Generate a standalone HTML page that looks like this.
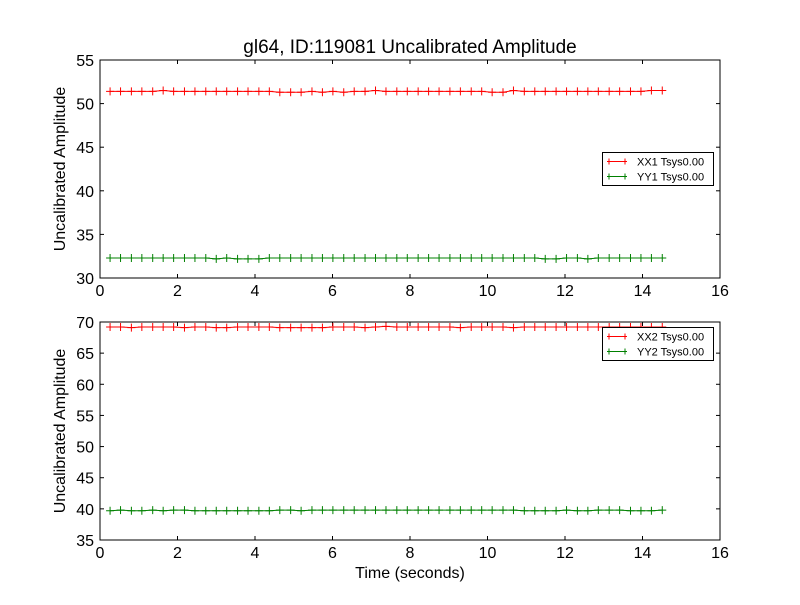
<!DOCTYPE html>
<html><head><meta charset="utf-8"><style>
body{margin:0;background:#fff;}
svg text{font-family:"Liberation Sans","DejaVu Sans",sans-serif;}
</style></head><body>
<svg id="chart" width="800" height="600" viewBox="0 0 800 600">
<rect width="800" height="600" fill="#fff"/>
</svg>
<script>
const times=[0.26,0.53,0.81,1.08,1.36,1.63,1.90,2.18,2.45,2.73,3.00,3.27,3.55,3.82,4.10,4.37,4.64,4.92,5.19,5.47,5.74,6.01,6.29,6.56,6.84,7.11,7.38,7.66,7.93,8.21,8.48,8.75,9.03,9.30,9.58,9.85,10.12,10.40,10.67,10.95,11.22,11.49,11.77,12.04,12.32,12.59,12.86,13.14,13.41,13.69,13.96,14.23,14.51];
const xx1=[51.4,51.4,51.4,51.4,51.4,51.5,51.4,51.4,51.4,51.4,51.4,51.4,51.4,51.4,51.4,51.4,51.3,51.3,51.3,51.4,51.3,51.4,51.3,51.4,51.4,51.5,51.4,51.4,51.4,51.4,51.4,51.4,51.4,51.4,51.4,51.4,51.3,51.3,51.5,51.4,51.4,51.4,51.4,51.4,51.4,51.4,51.4,51.4,51.4,51.4,51.4,51.5,51.5];
const yy1=[32.3,32.3,32.3,32.3,32.3,32.3,32.3,32.3,32.3,32.3,32.2,32.3,32.2,32.2,32.2,32.3,32.3,32.3,32.3,32.3,32.3,32.3,32.3,32.3,32.3,32.3,32.3,32.3,32.3,32.3,32.3,32.3,32.3,32.3,32.3,32.3,32.3,32.3,32.3,32.3,32.3,32.2,32.2,32.3,32.3,32.2,32.3,32.3,32.3,32.3,32.3,32.3,32.3];
const xx2=[69.2,69.2,69.1,69.2,69.2,69.2,69.2,69.1,69.2,69.2,69.1,69.1,69.2,69.2,69.2,69.2,69.1,69.1,69.1,69.1,69.1,69.2,69.2,69.2,69.1,69.2,69.3,69.2,69.2,69.2,69.2,69.2,69.2,69.1,69.2,69.2,69.2,69.2,69.1,69.2,69.2,69.2,69.2,69.2,69.2,69.2,69.2,69.2,69.2,69.2,69.2,69.2,69.2];
const yy2=[39.7,39.8,39.7,39.7,39.8,39.7,39.8,39.8,39.7,39.7,39.7,39.7,39.7,39.7,39.7,39.7,39.8,39.8,39.7,39.8,39.8,39.8,39.8,39.8,39.8,39.8,39.8,39.8,39.8,39.8,39.8,39.8,39.8,39.8,39.8,39.8,39.8,39.8,39.8,39.7,39.7,39.7,39.7,39.8,39.7,39.7,39.8,39.8,39.8,39.7,39.7,39.7,39.8];
const xTicks=[0,2,4,6,8,10,12,14,16];
const yTicksTop=[30,35,40,45,50,55];
const yTicksBot=[35,40,45,50,55,60,65,70];
const NS="http://www.w3.org/2000/svg";
const svg=document.getElementById('chart');
function mk(tag,attrs,parent){const e=document.createElementNS(NS,tag);for(const k in attrs)e.setAttribute(k,attrs[k]);(parent||svg).appendChild(e);return e;}
function panel(top,bottom,ymin,ymax,yticks,s1,s2,n1,n2,pname,legendY){
  const L=100,R=720;
  const x=v=>L+(v-0)/(16-0)*(R-L);
  const y=v=>bottom-(v-ymin)/(ymax-ymin)*(bottom-top);
  const g=mk('g',{});
  
  
  xTicks.forEach(t=>{
    mk('line',{x1:x(t),x2:x(t),y1:bottom,y2:bottom-4,stroke:'#000'},g);
    mk('line',{x1:x(t),x2:x(t),y1:top,y2:top+4,stroke:'#000'},g);
    const tx=mk('text',{x:x(t),y:bottom+18,'text-anchor':'middle','font-size':'16'},g);
    tx.textContent=t;
    
    
  });
  yticks.forEach(t=>{
    mk('line',{x1:L,x2:L+4,y1:y(t),y2:y(t),stroke:'#000'},g);
    mk('line',{x1:R,x2:R-4,y1:y(t),y2:y(t),stroke:'#000'},g);
    const tx=mk('text',{x:L-6,y:y(t)+6,'text-anchor':'end','font-size':'16'},g);
    tx.textContent=t;
    
    
  });
  [[s1,'#ff0000',n1],[s2,'#008000',n2]].forEach(([s,c,nm])=>{
    const pts=s.map((v,i)=>x(times[i])+','+y(v)).join(' ');
    const pl=mk('polyline',{points:pts,fill:'none',stroke:c,'stroke-width':1},g);
    
    
    s.forEach((v,i)=>{const px=x(times[i]),py=y(v);
      const m=mk('path',{d:`M${px-4} ${py}H${px+4}M${px} ${py-4}V${py+4}`,stroke:c,'stroke-width':1},g);
      
      });
  });
  const fr=mk('rect',{x:L,y:top,width:R-L,height:bottom-top,fill:'none',stroke:'#000','stroke-width':1},g);
  
  
  const lg=mk('g',{},g);
  
  
  mk('rect',{x:602.5,y:legendY,width:111,height:33,fill:'#fff',stroke:'#000'},lg);
  [[n1,'#ff0000'],[n2,'#008000']].forEach(([nm,c],k)=>{
    const yy=legendY+9+k*15;
    mk('line',{x1:607,x2:627,y1:yy,y2:yy,stroke:c},lg);
    mk('path',{d:`M609 ${yy-3}V${yy+3}M625 ${yy-3}V${yy+3}`,stroke:c},lg);
    const t=mk('text',{x:637,y:yy+4,'font-size':'11'},lg);
    t.textContent=nm;
    
    
  });
  const yl=mk('text',{x:0,y:0,'text-anchor':'middle','font-size':'16',transform:`translate(65,${(top+bottom)/2}) rotate(-90)`},g);
  yl.textContent='Uncalibrated Amplitude';
  
  
}
panel(60,278,30,55,yTicksTop,xx1,yy1,'XX1 Tsys0.00','YY1 Tsys0.00','top-panel',152.5);
panel(322,540,35,70,yTicksBot,xx2,yy2,'XX2 Tsys0.00','YY2 Tsys0.00','bottom-panel',327.5);
const ti=mk('text',{x:410,y:53,'text-anchor':'middle','font-size':'19'});
ti.textContent='gl64, ID:119081 Uncalibrated Amplitude';


const xl=mk('text',{x:410,y:578,'text-anchor':'middle','font-size':'16'});
xl.textContent='Time (seconds)';


</script>
</body></html>
